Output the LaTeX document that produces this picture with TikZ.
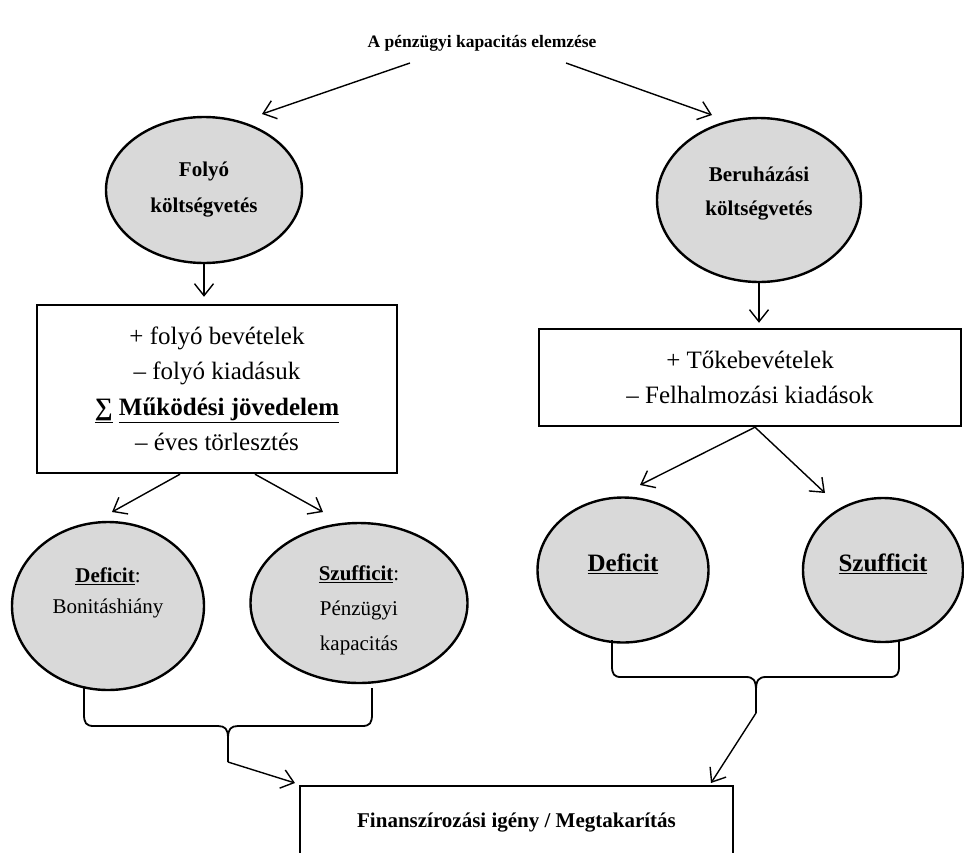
\documentclass[tikz,border=0pt]{standalone}
\usepackage{fontspec}
\setmainfont{Liberation Serif}
\usetikzlibrary{positioning,shapes.geometric,arrows.meta}
\definecolor{ovalgray}{HTML}{D9D9D9}
\tikzset{%
  arr/.style = {-{Straight Barb[length=12pt,width=19pt]},line width=1.4pt},
  oval/.style = {ellipse,draw,line width=2.4pt,fill=ovalgray,
        inner sep=0pt,align=center},
  box/.style = {rectangle,draw,line width=2.4pt,inner sep=0pt,
        align=center},
  brace/.style = {line width=1.8pt,line join=round}
}
\newcommand{\fsz}[2]{\fontsize{#1}{#2}\selectfont}

\begin{document}
\begin{tikzpicture}[x=1pt,y=-1pt]
    \useasboundingbox (0,0) rectangle (964,852);
    \node[font=\fsz{17.5}{20}\bfseries] (title) at (482,43) {A pénzügyi kapacitás elemzése};

    \node[oval,minimum width=196pt,minimum height=146pt,font=\fsz{21}{36}\bfseries]
        (folyo) at (204,190) {Folyó\\költségvetés};
    \node[oval,minimum width=204pt,minimum height=164pt,font=\fsz{21}{34}\bfseries]
        (beruh) at (759,200) {Beruházási\\költségvetés\rule[-17pt]{0pt}{1pt}};

    \node[box,minimum width=360pt,minimum height=168pt,font=\fsz{25}{35.5}]
        (boxL) at (217,389) {+ folyó bevételek\\– folyó kiadásuk\\
        \textbf{\underline{∑} \underline{Működési jövedelem}}\\– éves törlesztés};
    \node[box,minimum width=422pt,minimum height=97pt,font=\fsz{25}{35}]
        (boxR) at (750,377.5) {+ Tőkebevételek\\– Felhalmozási kiadások};

    \node[oval,minimum width=192pt,minimum height=168pt,font=\fsz{21}{31}]
        (defL) at (108,606) {\textbf{\underline{Deficit}}:\\Bonitáshiány\\\mbox{}};
    \node[oval,minimum width=217pt,minimum height=160pt,font=\fsz{21}{35}]
        (szufL) at (359,603) {\rule{0pt}{30pt}\textbf{\underline{Szufficit}}:\\Pénzügyi\\kapacitás};
    \node[oval,minimum width=171pt,minimum height=145pt,font=\fsz{25}{30}\bfseries]
        (defR) at (623,570) {\underline{Deficit}\rule[-15pt]{0pt}{1pt}};
    \node[oval,minimum width=160pt,minimum height=144pt,font=\fsz{25}{30}\bfseries]
        (szufR) at (883,570) {\underline{Szufficit}\rule[-15pt]{0pt}{1pt}};

    \node[box,minimum width=433pt,minimum height=74pt,font=\fsz{21}{25}\bfseries]
        (boxF) at (516.5,823) {Finanszírozási igény / Megtakarítás};

    % free ends of the connectors
    \coordinate (t1) at (410,63);
    \coordinate (t2) at (566,63);
    \coordinate (hFolyo) at (262,114);
    \coordinate (hBeruh) at (712,115);
    \coordinate (hDefL) at (112,512);
    \coordinate (hSzufL) at (323,512);
    \coordinate (hDefR) at (640,485);
    \coordinate (hSzufR) at (825,493);
    \coordinate (tipL) at (228,762);
    \coordinate (tipR) at (756,713);
    \coordinate (hF1) at (295,783);
    \coordinate (hF2) at (711,783);

    \draw[arr] (t1) -- (hFolyo);
    \draw[arr] (t2) -- (hBeruh);
    \draw[arr,shorten >=7pt] (folyo.south) -- (folyo.south |- boxL.north);
    \draw[arr,shorten >=5pt] (beruh.south) -- (beruh.south |- boxR.north);
    \draw[arr] ([xshift=-37pt]boxL.south) -- (hDefL);
    \draw[arr] ([xshift=38pt]boxL.south) -- (hSzufL);
    \draw[arr] ([xshift=5pt]boxR.south) -- (hDefR);
    \draw[arr] ([xshift=5pt]boxR.south) -- (hSzufR);

    % braces
    \draw[brace] (84,688) -- (84,714) .. controls (84,723) and (86,726) .. (94,726)
        -- (218,726) .. controls (225,726) and (228,729) .. (228,738) -- (tipL);
    \draw[brace] (372,688) -- (372,714) .. controls (372,723) and (370,726) .. (362,726)
        -- (238,726) .. controls (231,726) and (228,729) .. (228,738);
    \draw[brace] (612,640) -- (612,666) .. controls (612,674) and (614,677) .. (621,677)
        -- (746,677) .. controls (753,677) and (756,680) .. (756,690) -- (tipR);
    \draw[brace] (899,640) -- (899,666) .. controls (899,674) and (897,677) .. (890,677)
        -- (766,677) .. controls (759,677) and (756,680) .. (756,690);

    \draw[arr] (tipL) -- (hF1);
    \draw[arr] (tipR) -- (hF2);
\end{tikzpicture}
\end{document}
